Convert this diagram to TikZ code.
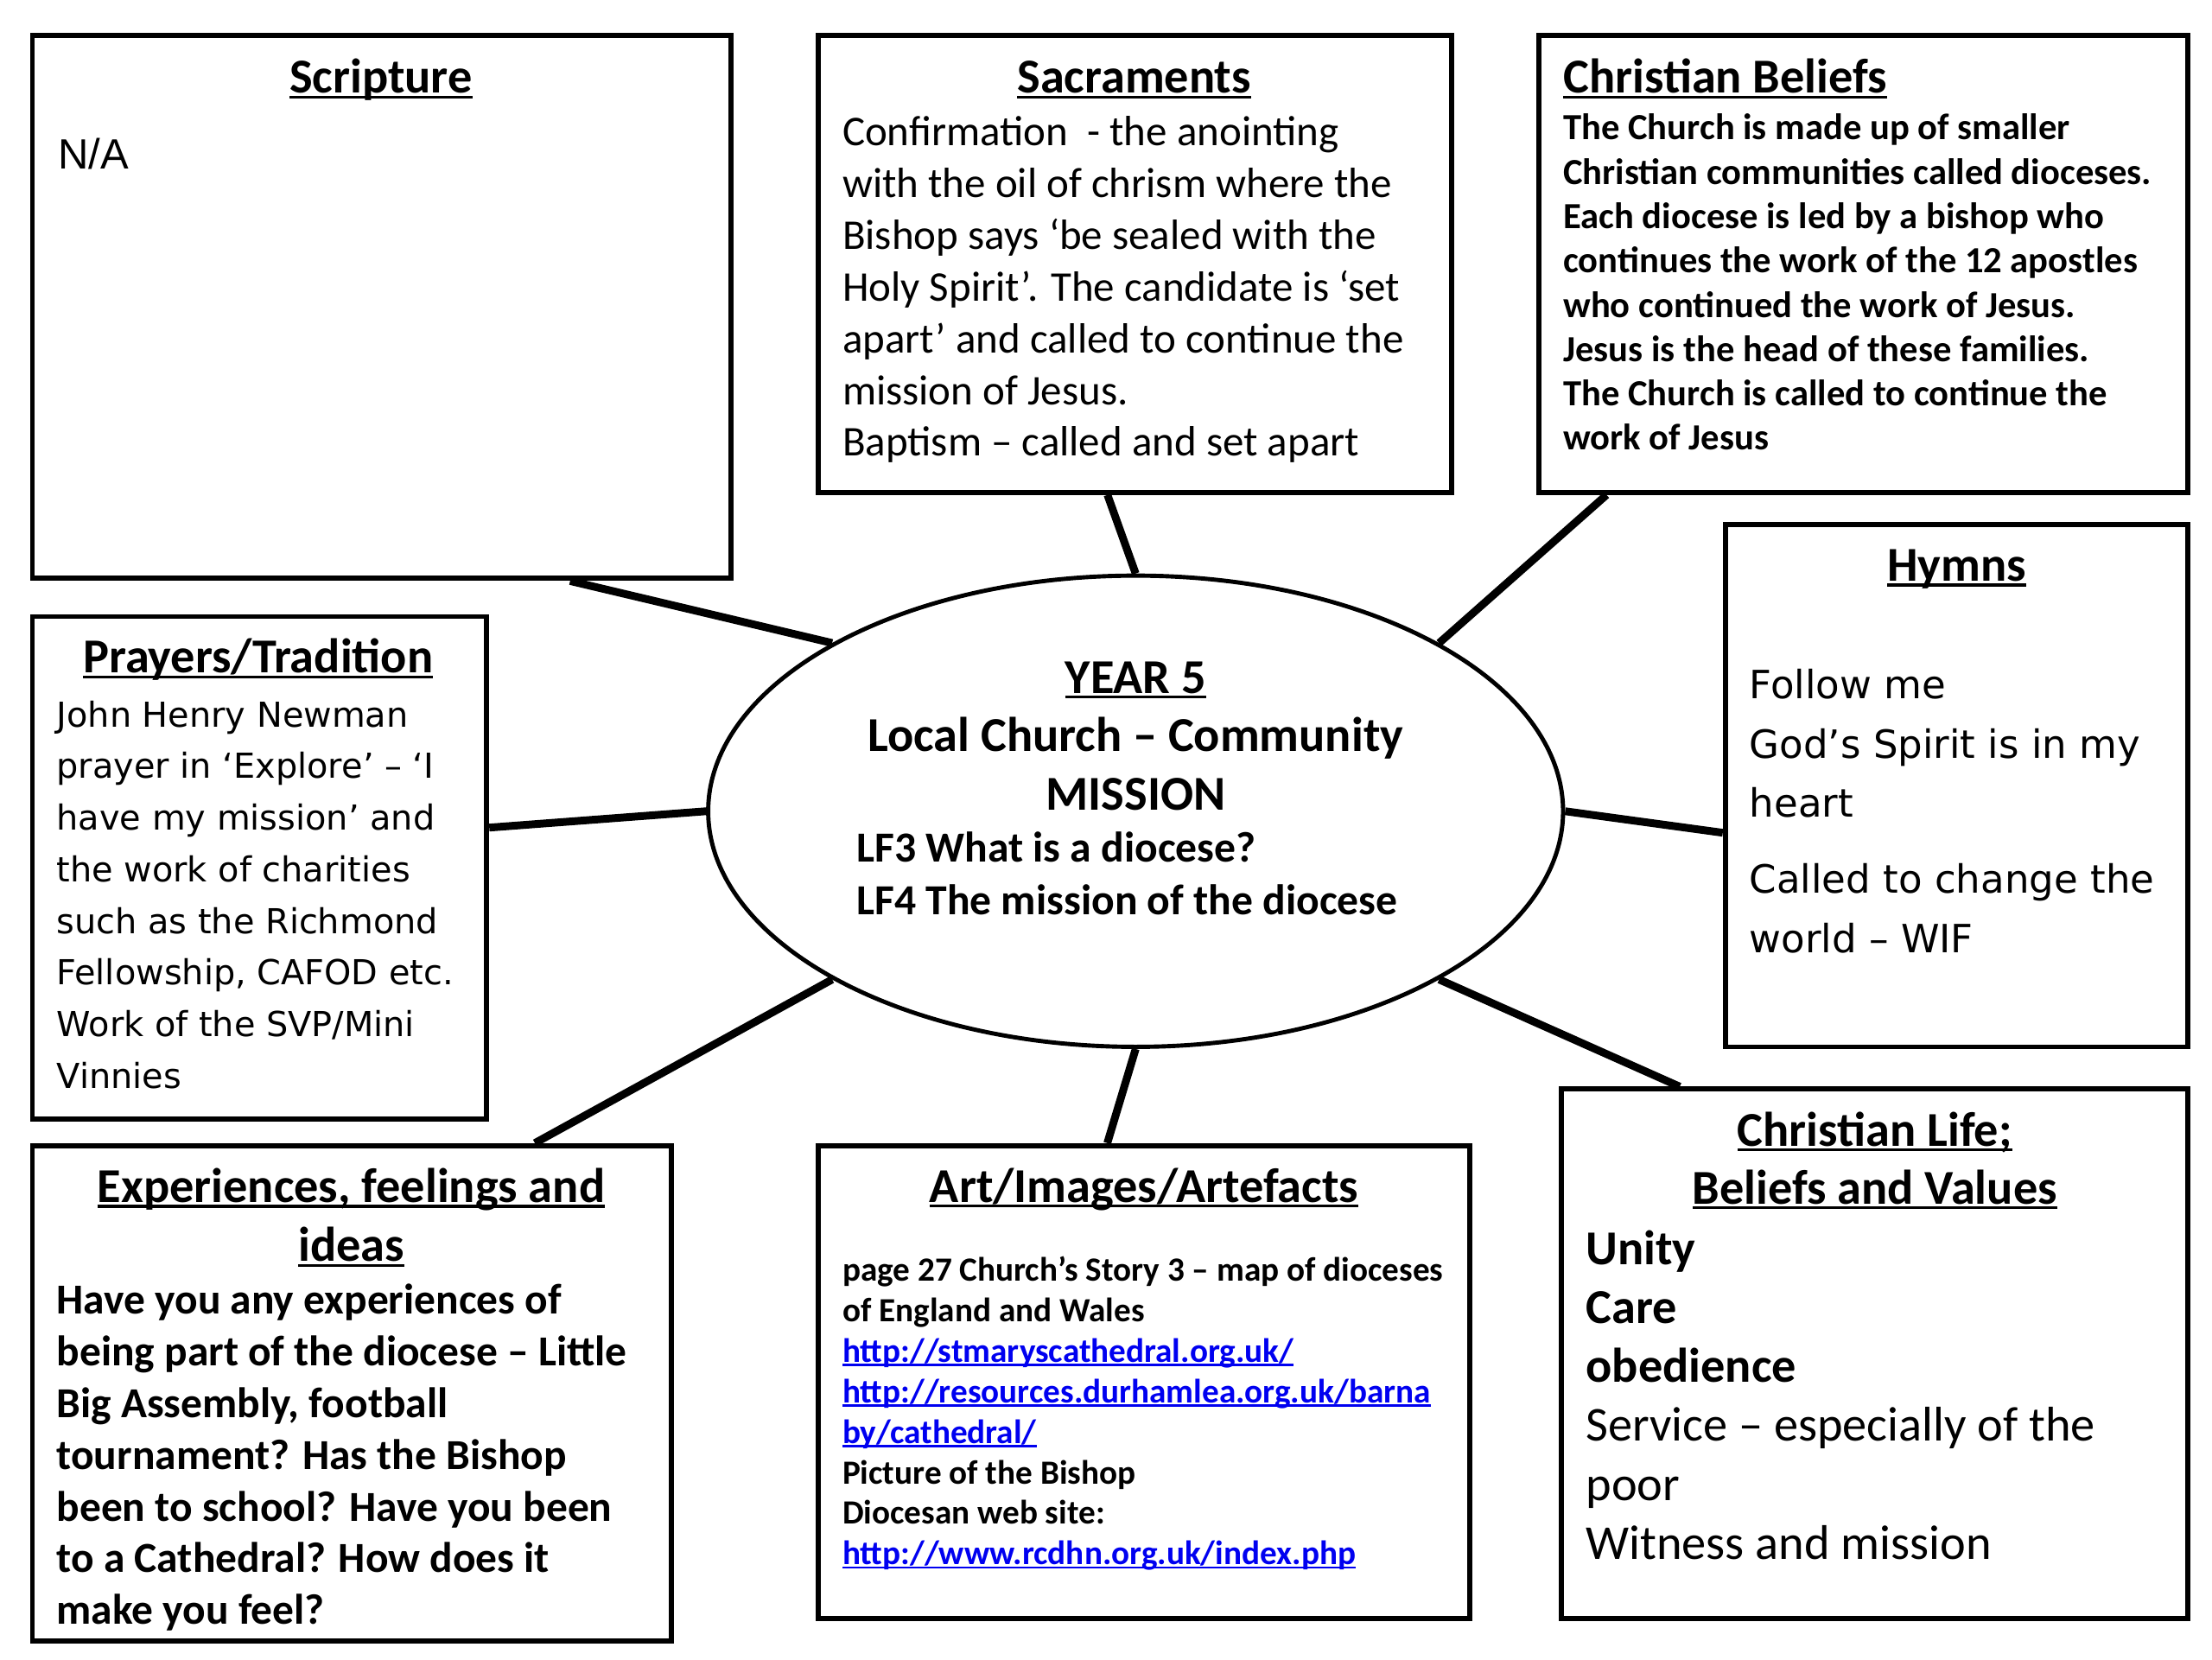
\documentclass[tikz,border=0pt]{standalone}
\usepackage{fontspec}
\setmainfont{Carlito}
\newfontfamily\dejavu{DejaVu Sans}
\newfontfamily\arialike{Liberation Sans}
\usetikzlibrary{shapes.geometric,calc,backgrounds}
\definecolor{linkblue}{RGB}{0,0,240}
\newsavebox\ulbox
\newcommand\uln[1]{\sbox\ulbox{#1}\rlap{\rule[-0.11em]{\wd\ulbox}{0.06em}}\usebox\ulbox}
\begin{document}
\begin{tikzpicture}[x=1pt,y=-1pt,
  box/.style={draw, line width=3.6pt, fill=white, inner sep=0pt},
  conn/.style={line width=5.5pt},
  title/.style={font=\fontsize{34.5}{42}\selectfont\bfseries, inner sep=0pt},
  txt/.style={inner sep=0pt, align=left, anchor=north west}]
\useasboundingbox (0,0) rectangle (1568,1176);
% boxes
\node[box, minimum width=495pt, minimum height=385pt] (scr) at (270.5,217.5) {};
\node[box, minimum width=449pt, minimum height=324pt] (sac) at (804.5,187) {};
\node[box, minimum width=460pt, minimum height=324pt] (bel) at (1321,187) {};
\node[box, minimum width=328pt, minimum height=370pt] (hym) at (1387,557) {};
\node[box, minimum width=322pt, minimum height=356pt] (pra) at (184,615) {};
\node[box, minimum width=453pt, minimum height=351pt] (exp) at (249.5,987.5) {};
\node[box, minimum width=462pt, minimum height=335pt] (art) at (811,979.5) {};
\node[box, minimum width=444pt, minimum height=375pt] (lif) at (1329,959.5) {};
\node[draw, ellipse, line width=3pt, fill=white, inner sep=0pt,
      minimum width=606pt, minimum height=334pt] (ell) at (805,575) {};
% connectors
\begin{pgfonlayer}{background}
\fill[white] (0,0) rectangle (1568,1176);
\draw[conn] ($(scr.south west)!0.768!(scr.south east)$) -- (ell.151);
\draw[conn] ($(sac.south west)!0.457!(sac.south east)$) -- (ell.90);
\draw[conn] ($(bel.south west)!0.107!(bel.south east)$) -- (ell.29);
\draw[conn] ($(hym.north west)!0.589!(hym.south west)$) -- (ell.0);
\draw[conn] ($(pra.north east)!0.421!(pra.south east)$) -- (ell.180);
\draw[conn] ($(exp.north west)!0.784!(exp.north east)$) -- (ell.209);
\draw[conn] ($(art.north west)!0.444!(art.north east)$) -- (ell.270);
\draw[conn] ($(lif.north west)!0.191!(lif.north east)$) -- (ell.331);
\end{pgfonlayer}
% Scripture
\node[title, anchor=base] (scrT) at (270,66) {\uln{Scripture}};
\node[inner sep=0pt, anchor=base west, font=\arialike\fontsize{30}{36.7}\selectfont] (scrB) at (41,119.5) {N/A};
% Sacraments
\node[title, anchor=base] (sacT) at (804,66) {\uln{Sacraments}};
\node[txt, font=\fontsize{30}{36.7}\selectfont] (sacB) at (597,77.3) {\strut Confirmation~ - the anointing\\with the oil of chrism where the\\Bishop says ‘be sealed with the\\Holy Spirit’. The candidate is ‘set\\apart’ and called to continue the\\mission of Jesus.\\Baptism – called and set apart};
% Christian Beliefs
\node[title, anchor=base west] (belT) at (1108,66) {\uln{Christian Beliefs}};
\node[txt, font=\fontsize{26.1}{31.4}\selectfont\bfseries] (belB) at (1108,77) {\strut The Church is made up of smaller\\Christian communities called dioceses.\\Each diocese is led by a bishop who\\continues the work of the 12 apostles\\who continued the work of Jesus.\\Jesus is the head of these families.\\The Church is called to continue the\\work of Jesus};
% Hymns
\node[title, anchor=base] (hymT) at (1387,412) {\uln{Hymns}};
\node[txt, font=\dejavu\fontsize{27.6}{42}\selectfont] (hymB1) at (1240,465.6) {\strut Follow me\\God’s Spirit is in my\\heart};
\node[txt, font=\dejavu\fontsize{27.6}{42}\selectfont] (hymB2) at (1240,603.6) {\strut Called to change the\\world – WIF};
% Prayers
\node[title, anchor=base] (praT) at (183,477) {\uln{Prayers/Tradition}};
\node[txt, font=\dejavu\fontsize{24.4}{36.6}\selectfont] (praB) at (40,489.4) {\strut John Henry Newman\\prayer in ‘Explore’ – ‘I\\have my mission’ and\\the work of charities\\such as the Richmond\\Fellowship, CAFOD etc.\\Work of the SVP/Mini\\Vinnies};
% Experiences
\node[title, anchor=north, align=center] (expT) at (249,822.6) {\strut\uln{Experiences, feelings and}\\\uln{ideas}};
\node[txt, font=\fontsize{30.3}{36.7}\selectfont\bfseries] (expB) at (40,905.3) {\strut Have you any experiences of\\being part of the diocese – Little\\Big Assembly, football\\tournament? Has the Bishop\\been to school? Have you been\\to a Cathedral? How does it\\make you feel?};
% Art
\node[title, anchor=base] (artT) at (811,852) {\uln{Art/Images/Artefacts}};
\node[txt, font=\fontsize{24}{28.7}\selectfont\bfseries] (artB) at (597,887.9) {\strut page 27 Church’s Story 3 – map of dioceses\\of England and Wales\\{\color{linkblue}\uln{http://stmaryscathedral.org.uk/}}\\{\color{linkblue}\uln{http://resources.durhamlea.org.uk/barna}}\\{\color{linkblue}\uln{by/cathedral/}}\\Picture of the Bishop\\Diocesan web site:\\{\color{linkblue}\uln{http://www.rcdhn.org.uk/index.php}}};
% Christian Life
\node[title, anchor=north, align=center, font=\fontsize{34.5}{41}\selectfont\bfseries] (lifT) at (1329,783.3) {\strut\uln{Christian Life;}\\\uln{Beliefs and Values}};
\node[txt, font=\fontsize{34.5}{41.8}\selectfont] (lifB) at (1124,866.7) {\strut\textbf{Unity}\\\textbf{Care}\\\textbf{obedience}\\Service – especially of the\\poor\\Witness and mission};
% Centre
\node[title, anchor=north, align=center, font=\fontsize{34.5}{41.5}\selectfont\bfseries] (ellT) at (805,462) {\strut\uln{YEAR 5}\\Local Church – Community\\MISSION};
\node[txt, font=\fontsize{30.4}{37}\selectfont\bfseries] (ellB) at (607,585.1) {\strut LF3 What is a diocese?\\LF4 The mission of the diocese};
\end{tikzpicture}
\end{document}
